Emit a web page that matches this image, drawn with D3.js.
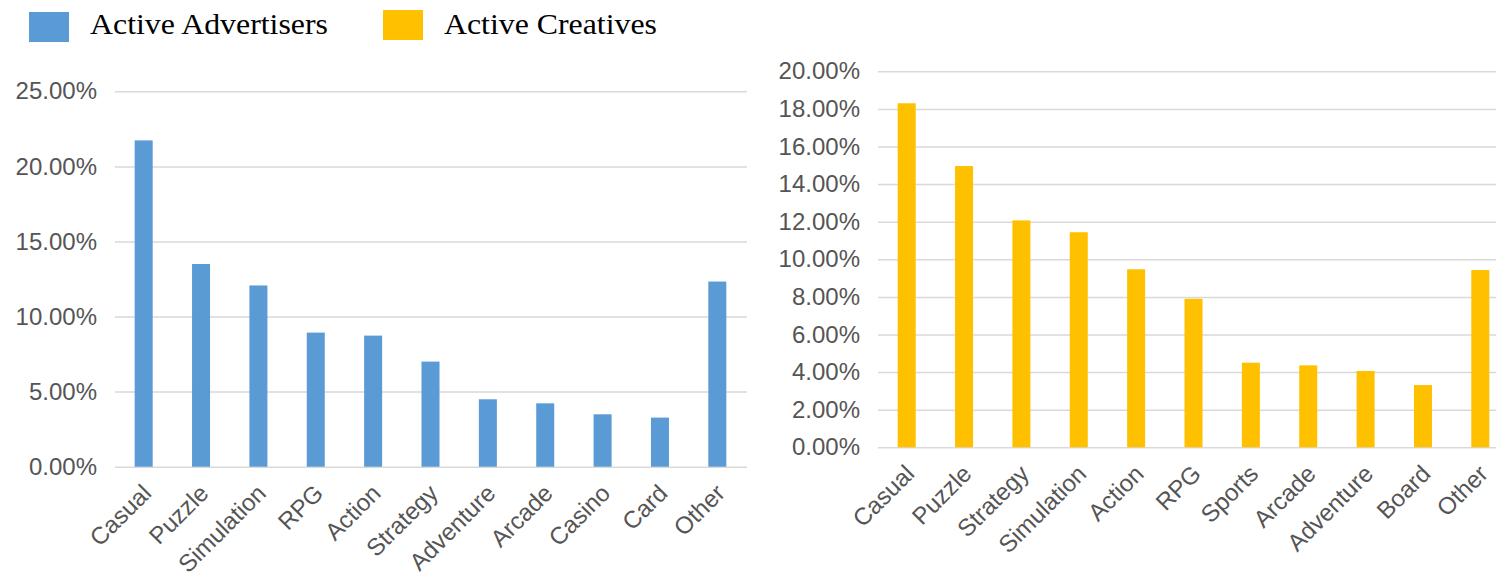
<!DOCTYPE html>
<html>
<head>
<meta charset="utf-8">
<script src="https://cdn.jsdelivr.net/npm/d3@7"></script>
<style>
  body { margin: 0; background: #fff; }
  .tick text { font-family: "Liberation Sans", Arial, Helvetica, sans-serif; }
</style>
</head>
<body>
<div id="chart"></div>
<script>
// data
var advCategories = ["Casual", "Puzzle", "Simulation", "RPG", "Action", "Strategy", "Adventure", "Arcade", "Casino", "Card", "Other"];
var advValues = [21.73, 13.5, 12.07, 8.93, 8.73, 7.0, 4.49, 4.22, 3.49, 3.27, 12.33];
var advTicks = [0, 5, 10, 15, 20, 25];

var creCategories = ["Casual", "Puzzle", "Strategy", "Simulation", "Action", "RPG", "Sports", "Arcade", "Adventure", "Board", "Other"];
var creValues = [18.3, 14.96, 12.07, 11.44, 9.47, 7.9, 4.5, 4.36, 4.06, 3.31, 9.43];
var creTicks = [0, 2, 4, 6, 8, 10, 12, 14, 16, 18, 20];

var seriesNames = ["Active Advertisers", "Active Creatives"];
var seriesColors = ["#5b9bd5", "#ffc000"];

var W = 1496, H = 582;

var svg = d3.select("#chart")
  .append("svg")
  .attr("width", W)
  .attr("height", H);

svg.append("rect").attr("width", W).attr("height", H).attr("fill", "#fff");

// legend
var legendX = [29, 383];
var legendLen = [238, 213];
seriesNames.forEach(function (name, i) {
  svg.append("rect")
    .attr("x", legendX[i])
    .attr("y", i == 0 ? 12 : 10)
    .attr("width", 40)
    .attr("height", 30)
    .attr("fill", seriesColors[i]);
  svg.append("text")
    .attr("x", legendX[i] + 61)
    .attr("y", 34)
    .attr("font-family", "'Liberation Serif', 'Times New Roman', serif")
    .attr("font-size", 29)
    .attr("textLength", legendLen[i])
    .attr("lengthAdjust", "spacingAndGlyphs")
    .attr("fill", "#000")
    .text(name);
});

function drawPanel(cfg) {
  var x = d3.scaleBand()
    .domain(cfg.categories)
    .range([cfg.x0, cfg.x1])
    .paddingInner(0.686)
    .paddingOuter(0.343);

  var y = d3.scaleLinear()
    .domain([0, d3.max(cfg.ticks)])
    .range([cfg.yBottom, cfg.yTop]);

  var g = svg.append("g");

  // gridlines + y labels
  var yAxis = g.append("g")
    .attr("transform", "translate(" + cfg.x0 + ",0)")
    .call(d3.axisLeft(y)
      .tickValues(cfg.ticks)
      .tickSize(-(cfg.gridEnd - cfg.x0))
      .tickPadding(cfg.x0 - cfg.labelX)
      .tickFormat(function (d) { return d.toFixed(2) + "%"; }));
  yAxis.select(".domain").remove();
  yAxis.selectAll(".tick line")
    .attr("stroke", "#d9d9d9")
    .attr("stroke-width", 1.5);
  yAxis.selectAll(".tick text")
    .attr("font-size", 24)
    .attr("fill", "#555");

  // bars
  g.selectAll(".bar")
    .data(cfg.values)
    .enter()
    .append("rect")
    .attr("class", "bar")
    .attr("x", function (d, i) { return x(cfg.categories[i]); })
    .attr("width", x.bandwidth())
    .attr("y", function (d) { return y(d); })
    .attr("height", function (d) { return y(0) - y(d); })
    .attr("fill", cfg.color);

  // x labels
  var xAxis = g.append("g")
    .attr("transform", "translate(0," + cfg.yBottom + ")")
    .call(d3.axisBottom(x).tickSize(0).tickPadding(0));
  xAxis.select(".domain").remove();
  xAxis.selectAll(".tick text")
    .attr("y", 0)
    .attr("dy", 0)
    .attr("font-size", 24)
    .attr("fill", "#555")
    .style("text-anchor", "end")
    .attr("transform", "translate(9,28) rotate(-45)");
}

drawPanel({
  categories: advCategories,
  values: advValues,
  ticks: advTicks,
  color: seriesColors[0],
  x0: 115, x1: 746, gridEnd: 747,
  yTop: 91.3, yBottom: 466.7,
  labelX: 97
});

drawPanel({
  categories: creCategories,
  values: creValues,
  ticks: creTicks,
  color: seriesColors[1],
  x0: 878, x1: 1509, gridEnd: 1496,
  yTop: 71.3, yBottom: 447.3,
  labelX: 860
});
</script>
</body>
</html>
